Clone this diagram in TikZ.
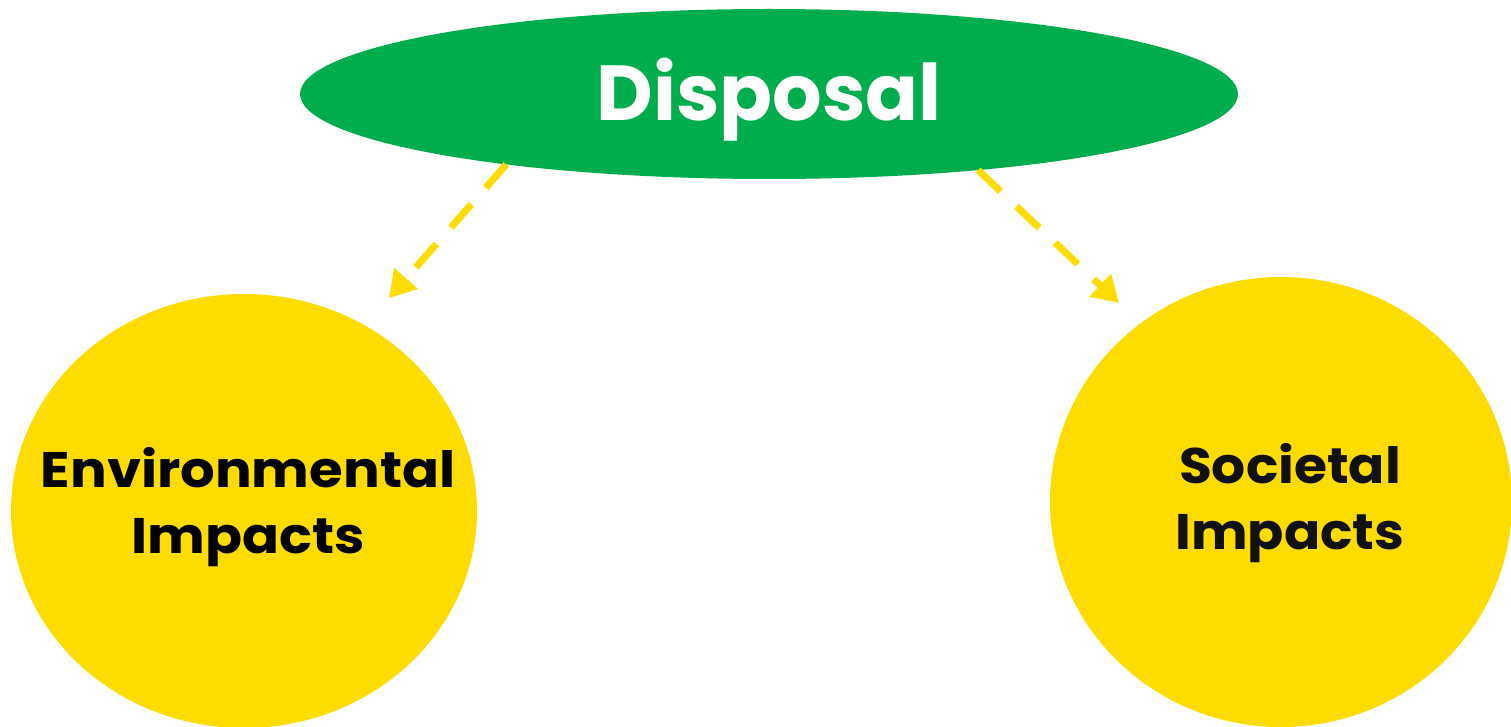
\documentclass[tikz,border=0pt]{standalone}
\usepackage{fontspec}
\setmainfont{Poppins}[BoldFont={* Bold}]
\usetikzlibrary{shapes.geometric,arrows.meta}
\definecolor{dgreen}{HTML}{00AD4D}
\definecolor{dyellow}{HTML}{FEDC00}
\definecolor{dtext}{HTML}{111111}
\tikzset{
  blob/.style={ellipse, fill=dyellow, draw=none, inner sep=0pt},
  link/.style={draw=dyellow, line width=7pt, dash pattern=on 31pt off 22pt, -{Triangle[length=26pt,width=30pt]}},
  lbl/.style={font=\bfseries\fontsize{50}{60}\selectfont, text=dtext, anchor=base, inner sep=0pt}
}
\begin{document}
\begin{tikzpicture}[x=1pt,y=-1pt]
\useasboundingbox (0,0) rectangle (1511,727);
\fill[white] (0,0) rectangle (1511,727);
\node[ellipse, fill=dgreen, minimum width=938pt, minimum height=170pt, inner sep=0pt, outer sep=0pt] (disp) at (769,94) {};
\node[font=\bfseries\fontsize{78}{80}\selectfont, text=white, anchor=base, inner sep=0pt] (dt) at (769,121) {Disposal};
\node[blob, minimum width=466pt, minimum height=434pt] (env) at (244,511) {};
\node[blob, minimum width=462pt, minimum height=450pt] (soc) at (1281,502) {};
\node[lbl, text=black] (envt1) at (248,487) {\scalebox{1.09}[1]{Environmental}};
\node[lbl, text=black] (envt2) at (248,553) {\scalebox{1.09}[1]{Impacts}};
\node[lbl] (soct1) at (1290,483) {\scalebox{1.07}[1]{Societal}};
\node[lbl] (soct2) at (1290,549) {\scalebox{1.07}[1]{Impacts}};
\coordinate (e1) at (389,298);
\coordinate (s1) at (1119,303);
\draw[link] (disp.195.6) -- (e1);
\draw[link] (disp.340.5) -- (s1);
\end{tikzpicture}
\end{document}
